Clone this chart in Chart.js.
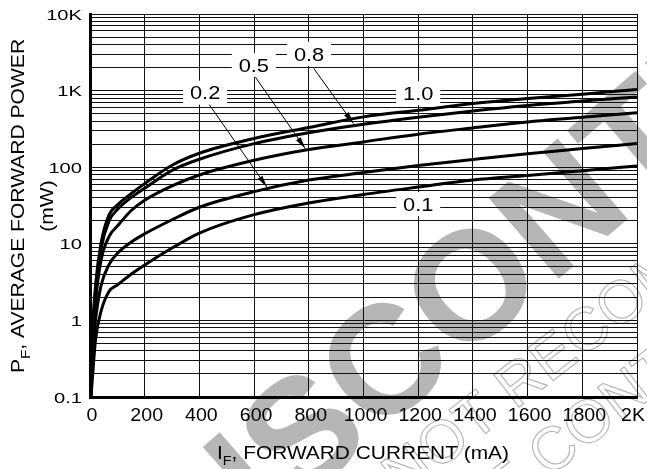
<!DOCTYPE html>
<html>
<head>
<meta charset="utf-8">
<script src="https://cdn.jsdelivr.net/npm/chart.js@4.4.1/dist/chart.umd.min.js"></script>
<style>
html, body { margin: 0; padding: 0; background: #fff; }
#wrap { width: 647px; height: 469px; }
</style>
</head>
<body>
<div id="wrap"><canvas id="chart" width="647" height="469"></canvas></div>
<script>
// forward current (mA) shared by every curve
const currents = [3, 6, 10, 20, 40, 70, 100, 150, 200, 300, 400, 600, 800, 1000, 1200, 1400, 1600, 1800, 2000];

// average forward power (mW), one array per duty cycle
const duty10 = [0.1, 0.35, 0.8, 2.8, 10, 24, 32, 45, 61, 106, 152, 237, 330, 454, 554, 677, 788, 897, 1037];
const duty08 = [0.1, 0.3, 0.7, 2.4, 8.5, 20, 28, 40, 53, 91, 127, 203, 282, 364, 450, 543, 640, 730, 828];
const duty05 = [0.1, 0.25, 0.55, 1.7, 6, 12.5, 17, 27, 37, 57, 79, 123, 170, 214, 270, 326, 390, 450, 512];
const duty02 = [0.1, 0.2, 0.4, 1.0, 2.8, 5.4, 7.5, 10.5, 13.5, 20.6, 30, 48, 68, 85, 105, 126, 150, 175, 204];
const duty01 = [0.1, 0.13, 0.2, 0.55, 1.3, 2.4, 2.9, 4.0, 5.3, 8.8, 13.8, 24, 34, 44, 55, 68, 78, 90, 104];

const dutyNames = ['1.0', '0.8', '0.5', '0.2', '0.1'];

const xTickValues = [0, 200, 400, 600, 800, 1000, 1200, 1400, 1600, 1800, 2000];
const xTickLabels = ['0', '200', '400', '600', '800', '1000', '1200', '1400', '1600', '1800', '2K'];
const yTickValues = [0.1, 1, 10, 100, 1000, 10000];
const yTickLabels = ['0.1', '1', '10', '100', '1K', '10K'];

// curve callouts, in data units (mA, mW)
const callouts = [
  { text: '1.0', at: [1200, 925] },
  { text: '0.1', at: [1200, 33] },
  { text: '0.2', at: [421, 940], from: [433, 679], to: [647, 55] },
  { text: '0.5', at: [599, 2150], from: [604, 1513], to: [787, 175] },
  { text: '0.8', at: [801, 3025], from: [818, 1950], to: [963, 372] }
];

const FAM = '"Liberation Sans", Arial, Helvetica, sans-serif';

function pts(ys) {
  return currents.map((x, i) => ({ x: x, y: ys[i] }));
}

// draws text made of parts [[str, isSub], ...]; y is the cap-height centre
function drawText(ctx, parts, x, y, size, opt) {
  opt = opt || {};
  const sx = opt.stretch || 1;
  const align = opt.align || 'center';
  ctx.save();
  ctx.translate(x, y);
  if (opt.angle) ctx.rotate(opt.angle);
  ctx.scale(sx, 1);
  const fonts = parts.map(p => (p[1] ? Math.round(size * 0.7) : size) + 'px ' + FAM);
  let w = 0;
  const ws = parts.map((p, i) => {
    ctx.font = fonts[i];
    const m = ctx.measureText(p[0]).width;
    w += m;
    return m;
  });
  let cx = align === 'center' ? -w / 2 : (align === 'right' ? -w : 0);
  ctx.fillStyle = opt.color || '#000';
  ctx.textAlign = 'left';
  ctx.textBaseline = 'alphabetic';
  parts.forEach((p, i) => {
    ctx.font = fonts[i];
    ctx.fillText(p[0], cx, size * 0.36 + (p[1] ? size * 0.3 : 0));
    cx += ws[i];
  });
  ctx.restore();
  return w * sx;
}

function arrow(ctx, x1, y1, x2, y2) {
  ctx.beginPath();
  ctx.moveTo(x1, y1);
  ctx.lineTo(x2, y2);
  ctx.stroke();
  const a = Math.atan2(y2 - y1, x2 - x1), L = 12, H = 2.8;
  ctx.beginPath();
  ctx.moveTo(x2, y2);
  ctx.lineTo(x2 - L * Math.cos(a) + H * Math.sin(a), y2 - L * Math.sin(a) - H * Math.cos(a));
  ctx.lineTo(x2 - L * Math.cos(a) - H * Math.sin(a), y2 - L * Math.sin(a) + H * Math.cos(a));
  ctx.closePath();
  ctx.fill();
}

// watermark text placed so a given letter sits on a given point
function watermarkRow(ctx, str, before, letter, x, y, deg, font, size, fill) {
  ctx.save();
  ctx.translate(x, y);
  ctx.rotate(deg * Math.PI / 180);
  ctx.font = font;
  const off = ctx.measureText(before).width + ctx.measureText(letter).width / 2;
  ctx.textAlign = 'left';
  ctx.textBaseline = 'alphabetic';
  if (fill) {
    ctx.fillStyle = '#b6b6b6';
    ctx.fillText(str, -off, size * 0.36);
  } else {
    ctx.strokeStyle = '#b8b8b8';
    ctx.lineWidth = 1.2;
    ctx.strokeText(str, -off, size * 0.36);
  }
  ctx.restore();
}

const deco = {
  id: 'deco',
  beforeDraw(chart) {
    const ctx = chart.ctx;
    watermarkRow(ctx, 'DISCONTINUED', 'DISC', 'O', 469, 283, -41, 'bold 155px ' + FAM, 155, true);
    watermarkRow(ctx, 'NOT RECOMMENDED FOR NEW DESIGN', 'NOT ', 'R', 519, 380, -38, '60px ' + FAM, 60, false);
    watermarkRow(ctx, 'PLEASE CONTACT YOUR REPRESENTATIVE', 'PLEASE ', 'C', 552, 448, -38, '60px ' + FAM, 60, false);
  },
  afterDatasetsDraw(chart) {
    const ctx = chart.ctx;
    const xs = chart.scales.x, ys = chart.scales.y;
    ctx.save();
    ctx.strokeStyle = '#000';
    ctx.fillStyle = '#000';
    ctx.lineWidth = 1;
    callouts.forEach(c => {
      if (c.from) {
        arrow(ctx, xs.getPixelForValue(c.from[0]), ys.getPixelForValue(c.from[1]),
          xs.getPixelForValue(c.to[0]), ys.getPixelForValue(c.to[1]));
      }
    });
    callouts.forEach(c => {
      const px = xs.getPixelForValue(c.at[0]), py = ys.getPixelForValue(c.at[1]);
      ctx.fillStyle = '#fff';
      ctx.fillRect(px - 22, py - 12, 44, 24);
      drawText(ctx, [[c.text, 0]], px, py, 19, { stretch: 1.15 });
    });
    ctx.restore();
  },
  afterDraw(chart) {
    const ctx = chart.ctx;
    const xs = chart.scales.x, ys = chart.scales.y;
    xTickValues.forEach((v, i) => {
      const last = i === xTickValues.length - 1;
      drawText(ctx, [[xTickLabels[i], 0]], last ? 645 : xs.getPixelForValue(v) + 2, 414.5, 19,
        { align: last ? 'right' : 'center', stretch: 1.03 });
    });
    yTickValues.forEach((v, i) => {
      drawText(ctx, [[yTickLabels[i], 0]], 82, ys.getPixelForValue(v), 15.5, { align: 'right', stretch: 1.3 });
    });
    drawText(ctx, [['I', 0], ['F', 1], [', FORWARD CURRENT (mA)', 0]], 363, 452, 19, { stretch: 1.1 });
    drawText(ctx, [['P', 0], ['F', 1], [', AVERAGE FORWARD POWER', 0]], 18, 206, 18, { stretch: 1.17, angle: -Math.PI / 2 });
    drawText(ctx, [['(mW)', 0]], 47, 206, 18, { stretch: 1.17, angle: -Math.PI / 2 });
  }
};

const series = [duty10, duty08, duty05, duty02, duty01];

const ctx = document.getElementById('chart').getContext('2d');
const chart = new Chart(ctx, {
  type: 'line',
  data: {
    datasets: series.map((s, i) => ({
      label: dutyNames[i],
      data: pts(s),
      borderColor: '#000',
      borderWidth: 3,
      pointRadius: 0,
      fill: false,
      cubicInterpolationMode: 'monotone'
    }))
  },
  options: {
    responsive: false,
    animation: false,
    devicePixelRatio: 1,
    layout: { padding: { top: 14, right: 10, left: 0, bottom: 0 } },
    plugins: { legend: { display: false }, tooltip: { enabled: false } },
    scales: {
      x: {
        type: 'linear',
        min: 0,
        max: 2000,
        ticks: { display: false, stepSize: 200 },
        grid: { color: '#111', lineWidth: 1, drawTicks: false },
        border: { display: true, color: '#000', width: 3 },
        afterFit: (scale) => { scale.height = 72; }
      },
      y: {
        type: 'logarithmic',
        min: 0.1,
        max: 10000,
        ticks: { display: false },
        grid: { color: '#111', lineWidth: 1, drawTicks: false },
        border: { display: true, color: '#000', width: 3 },
        afterBuildTicks: (scale) => {
          const t = [];
          for (let e = -1; e <= 3; e++) {
            for (let m = 1; m <= 9; m++) t.push({ value: m * Math.pow(10, e) });
          }
          t.push({ value: 10000 });
          scale.ticks = t;
        },
        afterFit: (scale) => { scale.width = 90; }
      }
    }
  },
  plugins: [deco]
});
</script>
</body>
</html>
